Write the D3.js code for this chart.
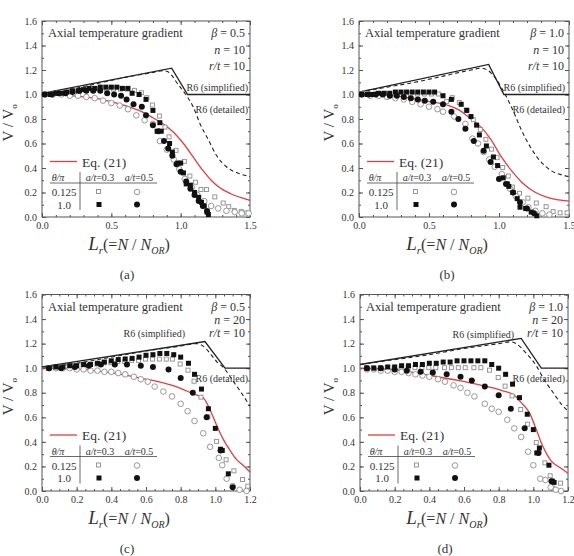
<!DOCTYPE html>
<html>
<head>
<meta charset="utf-8">
<script src="https://cdnjs.cloudflare.com/ajax/libs/d3/7.8.5/d3.min.js"></script>
<style>
body { margin: 0; background: #fff; }
svg { display: block; }
text { font-family: "Liberation Serif", "Times New Roman", serif; fill: #333; }
</style>
</head>
<body>
<div id="chart"></div>
<script>

// panel captions and parameters
var panelNames = ["(a)", "(b)", "(c)", "(d)"];
var betaValues = ["0.5", "1.0", "0.5", "1.0"];
var nValues = ["10", "10", "20", "20"];
var rtValues = ["10", "10", "10", "10"];
var xMaxValues = [1.5, 1.5, 1.2, 1.2];
var yTicks = [0, 0.2, 0.4, 0.6, 0.8, 1.0, 1.2, 1.4, 1.6];
var xTicksLong = [0, 0.5, 1.0, 1.5];
var xTicksShort = [0, 0.2, 0.4, 0.6, 0.8, 1.0, 1.2];

// ---- panel (a) : beta 0.5, n 10
var a_r6Simple = [[0,1.01],[0.935,1.215],[1.05,1.0],[1.5,1.0]];
var a_r6Detail = [[0,1.0],[0.2,1.04],[0.4,1.09],[0.6,1.14],[0.8,1.18],[0.87,1.195],[0.9,1.19],[0.94,1.15],[0.97,1.10],[1.03,1.01],[1.09,0.9],[1.14,0.76],[1.2,0.63],[1.26,0.5],[1.33,0.41],[1.42,0.355],[1.5,0.33]];
var a_eq21 = [[0,1.0],[0.15,0.995],[0.3,0.98],[0.45,0.955],[0.6,0.91],[0.7,0.87],[0.8,0.81],[0.88,0.755],[0.95,0.69],[1.02,0.6],[1.09,0.49],[1.16,0.38],[1.22,0.3],[1.28,0.24],[1.36,0.19],[1.43,0.16],[1.5,0.135]];
var a_sqOpen = [[0.02,1.0],[0.07,1.0],[0.12,1.01],[0.17,1.01],[0.22,1.02],[0.27,1.02],[0.32,1.03],[0.37,1.03],[0.42,1.04],[0.47,1.04],[0.52,1.04],[0.57,1.04],[0.62,1.04],[0.67,1.03],[0.72,1.01],[0.76,0.97],[0.8,0.91],[0.85,0.82],[0.89,0.73],[0.92,0.65],[0.97,0.54],[1.03,0.45],[1.07,0.33],[1.11,0.28],[1.15,0.22],[1.19,0.22],[1.25,0.16],[1.31,0.11],[1.35,0.08],[1.39,0.05],[1.44,0.04],[1.48,0.03]];
var a_circOpen = [[0.02,1.0],[0.08,1.0],[0.14,1.0],[0.2,0.99],[0.26,0.99],[0.32,0.98],[0.38,0.97],[0.44,0.95],[0.5,0.93],[0.56,0.91],[0.62,0.88],[0.68,0.83],[0.74,0.79],[0.8,0.76],[0.85,0.62],[0.9,0.55],[0.95,0.47],[0.99,0.39],[1.03,0.31],[1.08,0.24],[1.12,0.18],[1.17,0.13],[1.22,0.09],[1.27,0.07],[1.33,0.05],[1.39,0.04],[1.44,0.03],[1.49,0.03]];
var a_sqFilled = [[0.02,1.0],[0.06,1.0],[0.1,1.01],[0.14,1.01],[0.18,1.02],[0.22,1.03],[0.26,1.03],[0.3,1.04],[0.34,1.05],[0.38,1.05],[0.42,1.06],[0.46,1.06],[0.5,1.06],[0.54,1.06],[0.58,1.05],[0.62,1.05],[0.65,1.01],[0.7,1.0],[0.75,0.96],[0.8,0.87],[0.85,0.77],[0.83,0.7],[0.86,0.7],[0.92,0.6],[0.94,0.53],[0.98,0.44],[1.0,0.44],[1.02,0.36],[1.04,0.27],[1.07,0.26],[1.1,0.2],[1.13,0.16],[1.15,0.12],[1.17,0.09],[1.19,0.04],[1.2,0.02]];
var a_circFilled = [[0.02,1.0],[0.07,1.0],[0.12,1.01],[0.17,1.01],[0.22,1.02],[0.27,1.03],[0.32,1.03],[0.37,1.03],[0.42,1.03],[0.47,1.01],[0.52,1.0],[0.57,0.99],[0.61,0.96],[0.66,0.92],[0.72,0.9],[0.75,0.83],[0.8,0.75],[0.84,0.7],[0.88,0.62],[0.91,0.56],[0.94,0.5],[0.97,0.43],[1.0,0.37],[1.04,0.29],[1.07,0.23],[1.1,0.18],[1.13,0.13],[1.16,0.09],[1.19,0.05]];

// ---- panel (b) : beta 1.0, n 10
var b_r6Simple = [[0,1.02],[0.926,1.245],[1.035,1.0],[1.5,1.0]];
var b_r6Detail = [[0,1.02],[0.2,1.06],[0.4,1.1],[0.6,1.15],[0.8,1.2],[0.87,1.215],[0.91,1.205],[0.97,1.14],[1.04,1.01],[1.1,0.87],[1.16,0.71],[1.23,0.56],[1.3,0.45],[1.37,0.38],[1.445,0.345],[1.5,0.33]];
var b_eq21 = [[0,1.0],[0.15,0.995],[0.28,0.985],[0.4,0.965],[0.52,0.94],[0.64,0.91],[0.71,0.877],[0.8,0.8],[0.87,0.736],[0.945,0.627],[1.017,0.49],[1.088,0.38],[1.16,0.286],[1.255,0.204],[1.35,0.158],[1.5,0.13]];
var b_sqOpen = [[0.02,1.0],[0.07,1.0],[0.12,1.0],[0.17,1.0],[0.22,1.0],[0.27,1.0],[0.32,1.0],[0.37,1.0],[0.42,1.0],[0.47,1.0],[0.52,1.0],[0.57,1.0],[0.63,0.94],[0.67,0.97],[0.72,0.93],[0.77,0.87],[0.82,0.79],[0.87,0.71],[0.91,0.63],[0.95,0.55],[0.99,0.48],[1.03,0.4],[1.07,0.33],[1.1,0.24],[1.15,0.19],[1.21,0.15],[1.27,0.11],[1.34,0.08],[1.39,0.04],[1.44,0.03],[1.49,0.03]];
var b_circOpen = [[0.02,1.0],[0.08,0.99],[0.14,0.99],[0.2,0.98],[0.26,0.97],[0.32,0.96],[0.38,0.94],[0.44,0.92],[0.5,0.9],[0.56,0.88],[0.6,0.86],[0.68,0.82],[0.76,0.76],[0.81,0.64],[0.85,0.6],[0.89,0.53],[0.93,0.47],[0.97,0.41],[1.02,0.35],[1.08,0.23],[1.12,0.17],[1.17,0.12],[1.21,0.08],[1.26,0.05],[1.31,0.03],[1.36,0.02]];
var b_sqFilled = [[0.02,1.0],[0.06,1.0],[0.1,1.0],[0.14,1.01],[0.18,1.01],[0.22,1.01],[0.26,1.02],[0.3,1.02],[0.34,1.02],[0.38,1.02],[0.42,1.02],[0.46,1.02],[0.5,1.02],[0.54,1.02],[0.6,0.99],[0.66,0.96],[0.73,0.92],[0.77,0.87],[0.8,0.82],[0.84,0.75],[0.86,0.67],[0.91,0.58],[0.96,0.49],[0.99,0.42],[1.03,0.32],[1.06,0.27],[1.07,0.25],[1.1,0.2],[1.13,0.15],[1.15,0.08],[1.19,0.07],[1.23,0.04],[1.27,0.01]];
var b_circFilled = [[0.02,1.0],[0.07,1.0],[0.12,1.0],[0.17,1.0],[0.22,0.99],[0.27,0.99],[0.32,0.98],[0.37,0.97],[0.42,0.96],[0.47,0.95],[0.53,0.94],[0.6,0.92],[0.66,0.86],[0.71,0.8],[0.76,0.72],[0.82,0.62],[0.89,0.54],[0.94,0.45],[1.0,0.31],[1.05,0.27],[1.1,0.2],[1.15,0.12],[1.2,0.07],[1.25,0.03]];

// ---- panel (c) : beta 0.5, n 20
var c_r6Simple = [[0,1.01],[0.94,1.217],[1.056,1.0],[1.2,1.0]];
var c_r6Detail = [[0,1.0],[0.2,1.04],[0.4,1.09],[0.6,1.14],[0.8,1.18],[0.89,1.2],[0.93,1.18],[0.97,1.12],[1.01,1.05],[1.05,1.0],[1.1,0.9],[1.15,0.8],[1.2,0.69]];
var c_eq21 = [[0,1.0],[0.22,0.99],[0.41,0.96],[0.565,0.92],[0.7,0.88],[0.8,0.836],[0.873,0.79],[0.93,0.76],[0.97,0.66],[1.0,0.56],[1.046,0.42],[1.085,0.33],[1.12,0.26],[1.16,0.21],[1.2,0.155]];
var c_sqOpen = [[0.04,1.0],[0.08,1.0],[0.12,1.01],[0.16,1.01],[0.2,1.02],[0.24,1.02],[0.28,1.03],[0.32,1.03],[0.36,1.04],[0.4,1.04],[0.44,1.05],[0.48,1.05],[0.52,1.06],[0.56,1.06],[0.6,1.07],[0.64,1.07],[0.68,1.07],[0.72,1.07],[0.755,1.07],[0.8,1.03],[0.845,0.98],[0.88,0.89],[0.92,0.76],[0.96,0.6],[1.01,0.4],[1.065,0.25],[1.11,0.16],[1.16,0.09],[1.19,0.035]];
var c_circOpen = [[0.04,1.0],[0.08,1.0],[0.12,1.0],[0.16,1.0],[0.2,0.99],[0.24,0.99],[0.28,0.98],[0.32,0.98],[0.36,0.97],[0.4,0.97],[0.44,0.96],[0.48,0.95],[0.53,0.93],[0.57,0.91],[0.61,0.89],[0.65,0.85],[0.7,0.81],[0.75,0.77],[0.8,0.71],[0.84,0.65],[0.88,0.57],[0.93,0.47],[0.97,0.36],[1.02,0.27],[1.04,0.21],[1.065,0.1],[1.1,0.04],[1.14,0.01],[1.18,0.0]];
var c_sqFilled = [[0.04,1.0],[0.08,1.01],[0.12,1.01],[0.16,1.02],[0.2,1.02],[0.24,1.03],[0.28,1.03],[0.32,1.04],[0.36,1.05],[0.4,1.06],[0.44,1.07],[0.48,1.075],[0.52,1.08],[0.56,1.09],[0.6,1.105],[0.64,1.11],[0.68,1.12],[0.72,1.12],[0.76,1.11],[0.8,1.09],[0.845,1.04],[0.88,0.95],[0.92,0.83],[0.96,0.67],[1.0,0.51],[1.03,0.34],[1.04,0.33],[1.075,0.14]];
var c_circFilled = [[0.04,1.0],[0.11,1.0],[0.19,1.01],[0.27,1.02],[0.34,1.03],[0.42,1.03],[0.49,1.03],[0.57,1.02],[0.64,1.01],[0.73,0.99],[0.8,0.92],[0.87,0.8],[0.95,0.6],[1.03,0.33],[1.1,0.03]];

// ---- panel (d) : beta 1.0, n 20
var d_r6Simple = [[0,1.03],[0.93,1.243],[1.046,1.0],[1.2,1.0]];
var d_r6Detail = [[0,1.03],[0.2,1.07],[0.4,1.11],[0.6,1.16],[0.8,1.2],[0.87,1.215],[0.9,1.2],[0.96,1.12],[1.017,1.02],[1.065,0.9],[1.11,0.81],[1.16,0.71],[1.2,0.65]];
var d_eq21 = [[0,1.0],[0.22,0.985],[0.41,0.94],[0.565,0.9],[0.7,0.86],[0.815,0.82],[0.89,0.78],[0.93,0.72],[0.98,0.63],[1.017,0.5],[1.056,0.36],[1.1,0.25],[1.16,0.185],[1.2,0.144]];
var d_sqOpen = [[0.04,1.0],[0.08,1.0],[0.12,1.0],[0.16,1.0],[0.2,1.0],[0.24,1.0],[0.28,1.0],[0.32,1.0],[0.36,1.0],[0.4,1.0],[0.44,1.0],[0.49,1.0],[0.53,1.0],[0.57,1.0],[0.61,1.0],[0.66,1.0],[0.7,1.0],[0.75,0.98],[0.8,0.92],[0.84,0.85],[0.88,0.77],[0.93,0.66],[0.97,0.54],[1.02,0.39],[1.07,0.225],[1.1,0.12],[1.115,0.02],[1.16,0.06]];
var d_circOpen = [[0.04,0.99],[0.08,0.99],[0.12,0.98],[0.16,0.98],[0.2,0.97],[0.24,0.97],[0.28,0.96],[0.32,0.95],[0.36,0.94],[0.4,0.93],[0.45,0.91],[0.49,0.89],[0.54,0.86],[0.58,0.84],[0.62,0.8],[0.66,0.77],[0.72,0.71],[0.76,0.67],[0.8,0.645],[0.85,0.58],[0.89,0.51],[0.93,0.44],[0.97,0.32],[1.0,0.21],[1.04,0.1],[1.07,0.09],[1.1,0.03],[1.13,0.01],[1.16,0.0]];
var d_sqFilled = [[0.04,1.0],[0.08,1.0],[0.12,1.0],[0.16,1.01],[0.2,1.01],[0.24,1.02],[0.28,1.02],[0.32,1.03],[0.36,1.03],[0.4,1.04],[0.44,1.04],[0.48,1.05],[0.52,1.05],[0.56,1.06],[0.6,1.06],[0.64,1.06],[0.68,1.06],[0.72,1.06],[0.76,1.03],[0.8,1.0],[0.84,0.95],[0.88,0.87],[0.92,0.76],[0.965,0.625],[1.0,0.5],[1.035,0.35],[1.02,0.31],[1.09,0.21],[1.11,0.08],[1.12,0.07]];
var d_circFilled = [[0.04,1.0],[0.12,1.0],[0.2,0.99],[0.27,0.98],[0.35,0.97],[0.42,0.965],[0.5,0.95],[0.58,0.93],[0.645,0.9],[0.72,0.85],[0.8,0.78],[0.87,0.67],[0.95,0.51],[1.03,0.31],[1.105,0.08]];

var seriesA = {r6s: a_r6Simple, r6d: a_r6Detail, eq: a_eq21, sqO: a_sqOpen, ciO: a_circOpen, sqF: a_sqFilled, ciF: a_circFilled};
var seriesB = {r6s: b_r6Simple, r6d: b_r6Detail, eq: b_eq21, sqO: b_sqOpen, ciO: b_circOpen, sqF: b_sqFilled, ciF: b_circFilled};
var seriesC = {r6s: c_r6Simple, r6d: c_r6Detail, eq: c_eq21, sqO: c_sqOpen, ciO: c_circOpen, sqF: c_sqFilled, ciF: c_circFilled};
var seriesD = {r6s: d_r6Simple, r6d: d_r6Detail, eq: d_eq21, sqO: d_sqOpen, ciO: d_circOpen, sqF: d_sqFilled, ciF: d_circFilled};
var allSeries = [seriesA, seriesB, seriesC, seriesD];

// where each panel sits on the page
var layout = [
	{left: 42, top: 21, w: 208, h: 196, pStep: 16.5, simpX: 206, simpY: 66, detX: 206, detY: 88, capX: 127, capY: 279, labX: 13},
	{left: 359, top: 21, w: 210, h: 196, pStep: 16.5, simpX: 206, simpY: 66, detX: 206, detY: 88, capX: 447, capY: 279, labX: 334},
	{left: 42, top: 294.5, w: 208, h: 196.5, pStep: 13.3, simpX: 143, simpY: 39, detX: 206, detY: 84, capX: 127, capY: 553, labX: 13},
	{left: 360, top: 294.5, w: 208, h: 196.5, pStep: 13.3, simpX: 154, simpY: 40, detX: 205, detY: 84, capX: 445, capY: 553, labX: 334}
];

var svg = d3.select("#chart").append("svg")
	.attr("width", 574)
	.attr("height", 556);

for (var i = 0; i < 4; i++) {
	drawPanel(i);
}

function drawPanel(i) {
	var L = layout[i];
	var s = allSeries[i];
	var xMax = xMaxValues[i];

	var x = d3.scaleLinear().domain([0, xMax]).range([0, L.w]);
	var y = d3.scaleLinear().domain([0, 1.6]).range([L.h, 0]);

	var g = svg.append("g")
		.attr("transform", "translate(" + L.left + "," + L.top + ")");

	var majorX = xMax > 1.3 ? xTicksLong : xTicksShort;
	var minorX = d3.range(0, xMax + 0.001, xMax > 1.3 ? 0.1 : 0.05);
	var minorY = d3.range(0, 1.601, 0.1);

	// minor ticks, all four sides, pointing in
	g.append("g").attr("transform", "translate(0," + L.h + ")")
		.call(d3.axisBottom(x).tickValues(minorX).tickSize(-2).tickFormat(""));
	g.append("g")
		.call(d3.axisTop(x).tickValues(minorX).tickSize(-2).tickFormat(""));
	g.append("g")
		.call(d3.axisLeft(y).tickValues(minorY).tickSize(-2).tickFormat(""));
	g.append("g").attr("transform", "translate(" + L.w + ",0)")
		.call(d3.axisRight(y).tickValues(minorY).tickSize(-2).tickFormat(""));

	// major ticks with labels
	g.append("g").attr("transform", "translate(0," + L.h + ")")
		.call(d3.axisBottom(x).tickValues(majorX).tickSize(-4).tickPadding(5).tickFormat(d3.format(".1f")));
	g.append("g")
		.call(d3.axisTop(x).tickValues(majorX).tickSize(-4).tickFormat(""));
	g.append("g")
		.call(d3.axisLeft(y).tickValues(yTicks).tickSize(-4).tickPadding(5).tickFormat(d3.format(".1f")));
	g.append("g").attr("transform", "translate(" + L.w + ",0)")
		.call(d3.axisRight(y).tickValues(yTicks).tickSize(-4).tickFormat(""));

	g.selectAll(".domain").remove();
	g.selectAll(".tick line").attr("stroke", "#555");
	g.selectAll(".tick text")
		.style("font-family", "'Liberation Serif', 'Times New Roman', serif")
		.style("font-size", "10px")
		.attr("fill", "#444");

	// frame
	g.append("rect")
		.attr("width", L.w)
		.attr("height", L.h)
		.attr("fill", "none")
		.attr("stroke", "#555")
		.attr("stroke-width", 1);

	var line = d3.line()
		.x(function(d) { return x(d[0]); })
		.y(function(d) { return y(d[1]); });
	var smooth = d3.line()
		.curve(d3.curveMonotoneX)
		.x(function(d) { return x(d[0]); })
		.y(function(d) { return y(d[1]); });

	g.append("path").attr("d", line(s.r6s))
		.attr("fill", "none").attr("stroke", "#222").attr("stroke-width", 1.3);
	g.append("path").attr("d", smooth(s.r6d))
		.attr("fill", "none").attr("stroke", "#222").attr("stroke-width", 1.1)
		.attr("stroke-dasharray", "4,3");
	g.append("path").attr("d", smooth(s.eq))
		.attr("fill", "none").attr("stroke", "#d9413f").attr("stroke-width", 1.3);

	// data points
	var size = 5;
	g.selectAll(".sqO").data(s.sqO).enter().append("rect")
		.attr("x", function(d) { return x(d[0]) - size / 2; })
		.attr("y", function(d) { return y(d[1]) - size / 2; })
		.attr("width", size - 1).attr("height", size - 1)
		.attr("fill", "#fff").attr("stroke", "#8c8c8c").attr("stroke-width", 0.9);
	g.selectAll(".ciO").data(s.ciO).enter().append("circle")
		.attr("cx", function(d) { return x(d[0]); })
		.attr("cy", function(d) { return y(d[1]); })
		.attr("r", 2.8)
		.attr("fill", "#fff").attr("stroke", "#8c8c8c").attr("stroke-width", 0.9);
	g.selectAll(".sqF").data(s.sqF).enter().append("rect")
		.attr("x", function(d) { return x(d[0]) - size / 2; })
		.attr("y", function(d) { return y(d[1]) - size / 2; })
		.attr("width", size).attr("height", size)
		.attr("fill", "#111");
	g.selectAll(".ciF").data(s.ciF).enter().append("circle")
		.attr("cx", function(d) { return x(d[0]); })
		.attr("cy", function(d) { return y(d[1]); })
		.attr("r", 3)
		.attr("fill", "#111");

	// header texts
	g.append("text").attr("x", 6).attr("y", 16)
		.style("font-size", "12.5px").attr("fill", "#222")
		.text("Axial temperature gradient");

	var params = g.append("g").attr("text-anchor", "end").style("font-size", "12px");
	var t1 = params.append("text").attr("x", L.w - 5).attr("y", 16);
	t1.append("tspan").style("font-style", "italic").text("\u03b2");
	t1.append("tspan").text(" = " + betaValues[i]);
	var t2 = params.append("text").attr("x", L.w - 5).attr("y", 16 + L.pStep);
	t2.append("tspan").style("font-style", "italic").text("n");
	t2.append("tspan").text("  =  " + nValues[i]);
	var t3 = params.append("text").attr("x", L.w - 5).attr("y", 16 + 2 * L.pStep);
	t3.append("tspan").style("font-style", "italic").text("r/t");
	t3.append("tspan").text(" = " + rtValues[i]);

	g.append("text").attr("x", L.simpX).attr("y", L.simpY + 3.5)
		.attr("text-anchor", "end").style("font-size", "10px").attr("fill", "#333")
		.text("R6 (simplified)");
	g.append("text").attr("x", L.detX).attr("y", L.detY + 3.5)
		.attr("text-anchor", "end").style("font-size", "10px").attr("fill", "#333")
		.text("R6 (detailed)");

	// legend
	g.append("line").attr("x1", 8).attr("x2", 35).attr("y1", 140.5).attr("y2", 140.5)
		.attr("stroke", "#d9413f").attr("stroke-width", 1.3);
	g.append("text").attr("x", 40).attr("y", 145.5)
		.style("font-size", "13.5px").attr("fill", "#222").text("Eq. (21)");

	var hd = g.append("g").style("font-size", "10px").attr("text-anchor", "middle");
	var h1 = hd.append("text").attr("x", 16).attr("y", 160);
	h1.append("tspan").style("font-style", "italic").text("\u03b8/\u03c0");
	var h2 = hd.append("text").attr("x", 58).attr("y", 160);
	h2.append("tspan").style("font-style", "italic").text("a/t");
	h2.append("tspan").text("=0.3");
	var h3 = hd.append("text").attr("x", 97).attr("y", 160);
	h3.append("tspan").style("font-style", "italic").text("a/t");
	h3.append("tspan").text("=0.5");
	g.append("line").attr("x1", 8).attr("x2", 115).attr("y1", 162).attr("y2", 162)
		.attr("stroke", "#444").attr("stroke-width", 0.8);
	g.append("line").attr("x1", 38).attr("x2", 38).attr("y1", 151).attr("y2", 189)
		.attr("stroke", "#444").attr("stroke-width", 0.8);
	hd.append("text").attr("x", 22).attr("y", 175).style("font-size", "11px").text("0.125");
	hd.append("text").attr("x", 22).attr("y", 187.5).style("font-size", "11px").text("1.0");

	g.append("rect").attr("x", 57 - 2.5).attr("y", 171 - 2.5).attr("width", 4).attr("height", 4)
		.attr("fill", "#fff").attr("stroke", "#8c8c8c").attr("stroke-width", 0.9);
	g.append("circle").attr("cx", 95).attr("cy", 171).attr("r", 2.8)
		.attr("fill", "#fff").attr("stroke", "#8c8c8c").attr("stroke-width", 0.9);
	g.append("rect").attr("x", 57 - 2.5).attr("y", 183.5 - 2.5).attr("width", 5).attr("height", 5)
		.attr("fill", "#111");
	g.append("circle").attr("cx", 95).attr("cy", 183.5).attr("r", 3)
		.attr("fill", "#111");

	// axis titles
	var xl = svg.append("text")
		.attr("x", L.left + L.w / 2 - 17)
		.attr("y", L.top + L.h + 33)
		.attr("text-anchor", "middle")
		.attr("fill", "#222")
		.style("font-size", "16px");
	xl.append("tspan").style("font-style", "italic").style("font-size", "19px").text("L");
	xl.append("tspan").style("font-style", "italic").style("font-size", "11px").attr("dy", 4).text("r");
	xl.append("tspan").attr("dy", -4).text("(=");
	xl.append("tspan").style("font-style", "italic").text("N");
	xl.append("tspan").text(" / ");
	xl.append("tspan").style("font-style", "italic").text("N");
	xl.append("tspan").style("font-style", "italic").style("font-size", "10px").attr("dy", 4).text("OR");
	xl.append("tspan").attr("dy", -4).text(")");

	var yl = svg.append("text")
		.attr("transform", "translate(" + L.labX + "," + (L.top + L.h * 0.52) + ") rotate(-90)")
		.attr("text-anchor", "middle")
		.attr("fill", "#222")
		.style("font-size", "15px");
	yl.append("tspan").text("V / V");
	yl.append("tspan").style("font-size", "9px").attr("dy", 4).text("o");

	svg.append("text")
		.attr("x", L.capX).attr("y", L.capY)
		.attr("text-anchor", "middle")
		.attr("fill", "#222")
		.style("font-size", "13px")
		.text(panelNames[i]);
}
</script>
</body>
</html>
